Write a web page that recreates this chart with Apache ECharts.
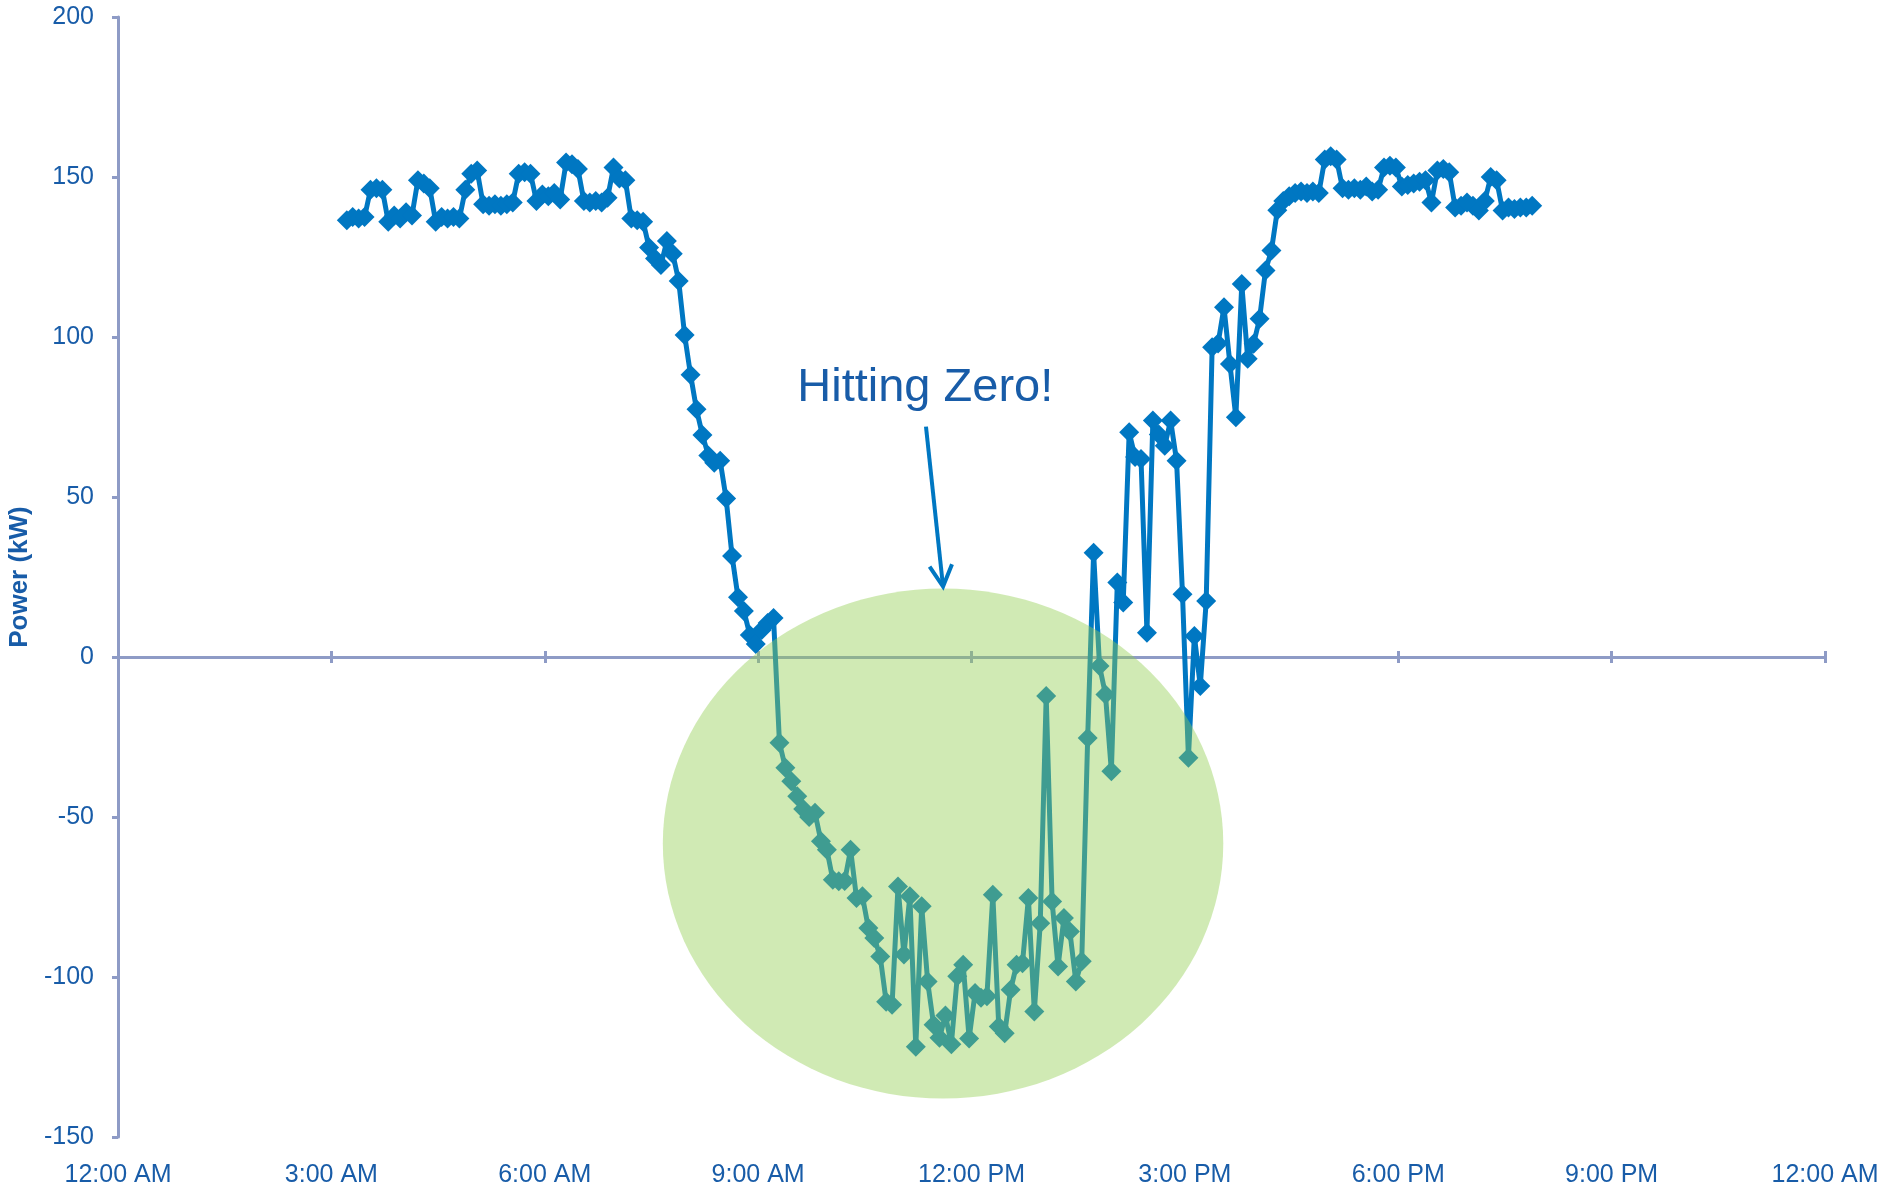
<!DOCTYPE html>
<html>
<head>
<meta charset="utf-8">
<script src="https://cdn.jsdelivr.net/npm/echarts/dist/echarts.min.js"></script>
<style>
html,body{margin:0;padding:0;background:#ffffff;}
#chart{width:1884px;height:1196px;}
</style>
</head>
<body>
<div id="chart"></div>
<script>
// ---- data ----
const sampleTimes = [
  "3:13","3:18","3:23","3:28","3:33","3:38","3:43","3:48","3:53","3:58",
  "4:03","4:08","4:13","4:18","4:23","4:28","4:33","4:38","4:43","4:48","4:53","4:58",
  "5:03","5:08","5:13","5:18","5:23","5:28","5:33","5:38","5:43","5:48","5:53","5:58",
  "6:03","6:08","6:13","6:18","6:23","6:28","6:33","6:38","6:43","6:48","6:53","6:58",
  "7:03","7:08","7:13","7:18","7:23","7:28","7:33","7:38","7:43","7:48","7:53","7:58",
  "8:03","8:08","8:13","8:18","8:23","8:28","8:33","8:38","8:43","8:48","8:53","8:58",
  "9:03","9:08","9:13","9:18","9:23","9:28","9:33","9:38","9:43","9:48","9:53","9:58",
  "10:03","10:08","10:13","10:18","10:23","10:28","10:33","10:38","10:43","10:48","10:53","10:58",
  "11:03","11:08","11:13","11:18","11:23","11:28","11:33","11:38","11:43","11:48","11:53","11:58",
  "12:03","12:08","12:13","12:18","12:23","12:28","12:33","12:38","12:43","12:48","12:53","12:58",
  "13:03","13:08","13:13","13:18","13:23","13:28","13:33","13:38","13:43","13:48","13:53","13:58",
  "14:03","14:08","14:13","14:18","14:23","14:28","14:33","14:38","14:43","14:48","14:53","14:58",
  "15:03","15:08","15:13","15:18","15:23","15:28","15:33","15:38","15:43","15:48","15:53","15:58",
  "16:03","16:08","16:13","16:18","16:23","16:28","16:33","16:38","16:43","16:48","16:53","16:58",
  "17:03","17:08","17:13","17:18","17:23","17:28","17:33","17:38","17:43","17:48","17:53","17:58",
  "18:03","18:08","18:13","18:18","18:23","18:28","18:33","18:38","18:43","18:48","18:53","18:58",
  "19:03","19:08","19:13","19:18","19:23","19:28","19:33","19:38","19:43","19:48","19:53"
];

const powerKW = [
  136.5,137.5,137,137.5,146,146.5,146,136,138,137,
  139,138,149,148,146.5,136,137.5,137,137.5,137,
  146,151,152,141.5,141,141.5,141,141.5,142,151,
  151.5,151,142.5,144.5,144,145,143,154.5,154,152.5,
  142.5,142,142.5,142,143.5,153,149.5,149,137,136.5,
  136,128,124.5,122.5,130,126,117.5,100.6,88.2,77.4,
  69.4,63,60.7,61.3,49.5,31.6,18.7,14.4,6.9,4.1,
  8.4,10.6,12.2,-26.8,-34.6,-38.8,-43.5,-47.5,-50,-48.7,
  -57.6,-60.2,-69.6,-70.1,-70,-60.2,-75.3,-74.8,-84.7,-87.8,
  -93.6,-107.7,-108.7,-71.7,-93,-74.8,-121.8,-77.9,-101.4,-114.9,
  -119,-112,-121,-99.8,-96.2,-119.2,-105,-106.5,-106,-74.3,
  -115.5,-117.6,-104,-96.2,-95.7,-75.3,-110.8,-83.2,-12.2,-76.4,
  -96.7,-81.6,-85.8,-101.4,-95.1,-25.3,32.6,-2.8,-11.7,-35.7,
  23.3,17,70.2,62.5,61.9,7.6,73.9,69.5,66,73.9,
  61.3,19.6,-31.5,6.6,-9.1,17.5,96.8,98,109.3,91.6,
  74.9,116.6,93.2,97.9,105.7,120.8,127,139.6,142.5,144,
  145,145.5,145,145.5,145,155.5,156.5,155.5,146.5,146,
  146.5,146,147,145.5,146,153,153.5,153,147,147.5,
  148,148.5,149,142,152,152.5,151.5,140.5,141,142,
  141,139.5,142.5,150,149,139.5,140.5,140,140.5,140.5,141
];

const xTickLabels = ["12:00 AM","3:00 AM","6:00 AM","9:00 AM","12:00 PM","3:00 PM","6:00 PM","9:00 PM","12:00 AM"];
const yAxisTitle = "Power (kW)";
const calloutText = "Hitting Zero!";

// annotation anchors, in [hour, kW]
const calloutTextAt = [11.35, 84];
const arrowFrom = [11.36, 72];
const arrowTo = [11.6, 22];
const highlightEllipse = [11.6, -58.3, 3.94, 79.7]; // center hour, center kW, radius hours, radius kW

// ---- styles ----
const FONT = "'Liberation Sans', Arial, sans-serif";
const TEXT_BLUE = "#185CA8";
const LINE_BLUE = "#0077C2";
const AXIS_COLOR = "#8E9BC6";

function toHours(t) {
  const p = t.split(":");
  return Number(p[0]) + Number(p[1]) / 60;
}
const seriesData = sampleTimes.map((t, i) => [toHours(t), powerKW[i]]);

const chart = echarts.init(document.getElementById("chart"), null, { renderer: "canvas" });

const baseX = {
  type: "value", min: 0, max: 24, interval: 3,
  splitLine: { show: false },
  axisLabel: { show: false }
};

const option = {
  animation: false,
  backgroundColor: "#ffffff",
  textStyle: { fontFamily: FONT },
  grid: { left: 118, top: 17, right: 59, bottom: 59, containLabel: false, outerBoundsMode: "none" },
  xAxis: [
    Object.assign({}, baseX, {
      position: "bottom",
      axisLine: { show: true, onZero: true, onZeroAxisIndex: 0, lineStyle: { color: AXIS_COLOR, width: 3 } },
      axisTick: { show: true, inside: false, length: 6, lineStyle: { color: AXIS_COLOR, width: 3 } }
    }),
    Object.assign({}, baseX, {
      position: "top",
      axisLine: { show: true, onZero: true, onZeroAxisIndex: 0, lineStyle: { color: AXIS_COLOR, width: 3 } },
      axisTick: { show: true, inside: false, length: 6, lineStyle: { color: AXIS_COLOR, width: 3 } }
    }),
    Object.assign({}, baseX, {
      position: "bottom",
      axisLine: { show: false, onZero: false },
      axisTick: { show: false },
      axisLabel: {
        show: true, margin: 26, fontSize: 25, color: TEXT_BLUE, fontFamily: FONT,
        showMinLabel: true, showMaxLabel: true,
        formatter: function (v) { return xTickLabels[Math.round(v / 3)] || ""; }
      }
    })
  ],
  yAxis: {
    type: "value", min: -150, max: 200, interval: 50,
    name: yAxisTitle, nameLocation: "middle", nameGap: 82,
    nameTextStyle: { fontSize: 26, fontWeight: "bold", color: TEXT_BLUE, fontFamily: FONT },
    axisLine: { show: true, onZero: false, lineStyle: { color: AXIS_COLOR, width: 3 } },
    axisTick: { show: true, inside: false, length: 6, lineStyle: { color: AXIS_COLOR, width: 3 } },
    axisLabel: { show: true, margin: 24, fontSize: 25, color: TEXT_BLUE, fontFamily: FONT },
    splitLine: { show: false }
  },
  series: [
    {
      type: "line",
      data: seriesData,
      xAxisIndex: 0, yAxisIndex: 0,
      symbol: "diamond",
      symbolSize: 20,
      showSymbol: true,
      lineStyle: { color: LINE_BLUE, width: 5 },
      itemStyle: { color: LINE_BLUE },
      emphasis: { disabled: true },
      z: 2
    },
    {
      type: "custom",
      xAxisIndex: 0, yAxisIndex: 0,
      data: [highlightEllipse],
      encode: { x: 0, y: 1 },
      z: 5,
      silent: true,
      renderItem: function (params, api) {
        const c = api.coord([api.value(0), api.value(1)]);
        const e = api.coord([api.value(0) + api.value(2), api.value(1) - api.value(3)]);
        const rx = Math.abs(e[0] - c[0]);
        const ry = Math.abs(e[1] - c[1]);
        return {
          type: "circle",
          x: c[0], y: c[1],
          scaleY: ry / rx,
          shape: { cx: 0, cy: 0, r: rx },
          style: { fill: "rgba(146,206,80,0.43)" }
        };
      }
    },
    {
      type: "custom",
      xAxisIndex: 0, yAxisIndex: 0,
      data: [[calloutTextAt[0], calloutTextAt[1], arrowFrom[0], arrowFrom[1], arrowTo[0], arrowTo[1]]],
      encode: { x: 0, y: 1 },
      z: 6,
      silent: true,
      renderItem: function (params, api) {
        const t = api.coord([api.value(0), api.value(1)]);
        const a = api.coord([api.value(2), api.value(3)]);
        const b = api.coord([api.value(4), api.value(5)]);
        const dx = a[0] - b[0], dy = a[1] - b[1];
        const len = Math.sqrt(dx * dx + dy * dy);
        const ux = dx / len, uy = dy / len;
        const hl = 24, ang = 28 * Math.PI / 180;
        const cs = Math.cos(ang), sn = Math.sin(ang);
        const h1 = [b[0] + hl * (ux * cs - uy * sn), b[1] + hl * (ux * sn + uy * cs)];
        const h2 = [b[0] + hl * (ux * cs + uy * sn), b[1] + hl * (-ux * sn + uy * cs)];
        return {
          type: "group",
          children: [
            {
              type: "text", x: t[0], y: t[1],
              style: { text: calloutText, fontSize: 47, fontFamily: FONT, fill: TEXT_BLUE, align: "center", verticalAlign: "middle" }
            },
            {
              type: "line",
              shape: { x1: a[0], y1: a[1], x2: b[0], y2: b[1] },
              style: { stroke: LINE_BLUE, lineWidth: 4 }
            },
            {
              type: "polyline",
              shape: { points: [h1, b, h2] },
              style: { stroke: LINE_BLUE, lineWidth: 4, fill: null }
            }
          ]
        };
      }
    }
  ]
};

chart.setOption(option);
</script>
</body>
</html>
